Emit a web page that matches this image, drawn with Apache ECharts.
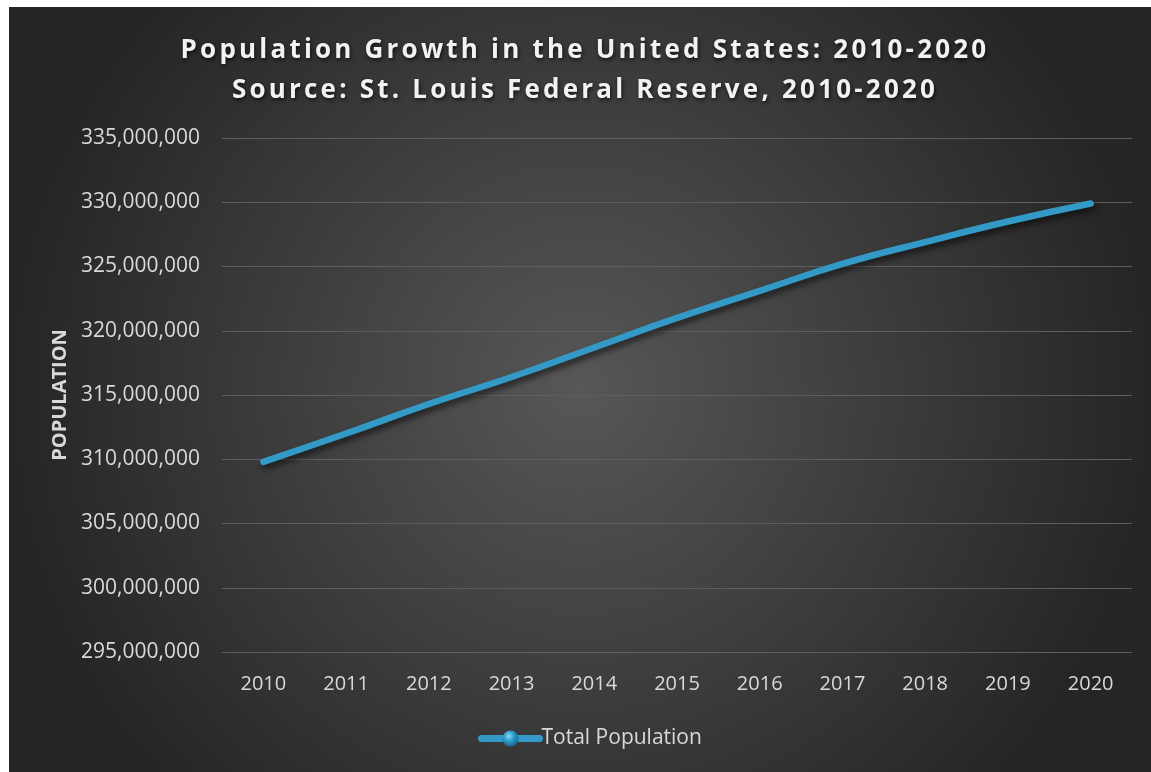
<!DOCTYPE html>
<html>
<head>
<meta charset="utf-8">
<script src="https://cdn.jsdelivr.net/npm/echarts@6/dist/echarts.min.js"></script>
<style>
  html, body { margin: 0; padding: 0; background: #ffffff; }
  #chart { width: 1151px; height: 772px; }
</style>
</head>
<body>
<div id="chart"></div>
<script>
// data
const years = ['2010', '2011', '2012', '2013', '2014', '2015', '2016', '2017', '2018', '2019', '2020'];
const totalPopulation = [309800000, 312000000, 314300000, 316400000, 318700000, 321000000,
  323100000, 325200000, 326900000, 328500000, 329900000];
const yMin = 295000000;
const yMax = 335000000;
const yStep = 5000000;
const titleLines = [
  'Population Growth in the United States: 2010-2020',
  'Source: St. Louis Federal Reserve, 2010-2020'
];

const labelColor = '#d9d9d9';
const lineColor = '#3399c6';

// the title is letter-spaced, so every character goes in its own rich token
function spaced(line) {
  return line.split('').map(function (c) { return '{s|' + c + '}'; }).join('');
}

const myChart = echarts.init(document.getElementById('chart'));

const option = {
  backgroundColor: '#ffffff',
  animation: false,
  graphic: [
    {
      type: 'rect',
      z: -100,
      silent: true,
      shape: { x: 9, y: 7, width: 1142, height: 765 },
      style: {
        fill: new echarts.graphic.RadialGradient(0.5, 0.5, 0.75, [
          { offset: 0, color: '#575757' },
          { offset: 1, color: '#252525' }
        ])
      }
    }
  ],
  title: {
    text: titleLines.map(spaced).join('\n'),
    left: 580,
    top: 26,
    textAlign: 'center',
    textStyle: {
      color: '#f2f2f2',
      fontFamily: 'Open Sans',
      fontWeight: 'bold',
      fontSize: 26,
      lineHeight: 40,
      rich: {
        s: {
          color: '#f2f2f2',
          fontFamily: 'Open Sans',
          fontWeight: 'bold',
          fontSize: 26,
          lineHeight: 40,
          padding: [0, 3.2, 0, 0],
          textShadowColor: 'rgba(0,0,0,0.7)',
          textShadowBlur: 4,
          textShadowOffsetX: 1,
          textShadowOffsetY: 2
        }
      }
    }
  },
  legend: {
    bottom: 18,
    left: 473,
    itemWidth: 58,
    itemHeight: 20,
    itemGap: 10,
    data: ['Total Population'],
    lineStyle: { width: 7, color: lineColor, cap: 'round' },
    itemStyle: {
      color: new echarts.graphic.RadialGradient(0.4, 0.35, 0.6, [
        { offset: 0, color: '#8fd3f0' },
        { offset: 0.5, color: '#2f9fd0' },
        { offset: 1, color: '#1b6f94' }
      ])
    },
    textStyle: {
      color: labelColor,
      fontFamily: 'Open Sans',
      fontSize: 21,
      padding: [0, 0, 0, -3]
    }
  },
  grid: {
    left: 222,
    right: 19,
    top: 138,
    bottom: 120
  },
  xAxis: {
    type: 'category',
    data: years,
    boundaryGap: true,
    axisLine: { show: false },
    axisTick: { show: false },
    axisLabel: {
      color: labelColor,
      fontFamily: 'Open Sans',
      fontSize: 20,
      margin: 22
    }
  },
  yAxis: {
    type: 'value',
    min: yMin,
    max: yMax,
    interval: yStep,
    name: 'POPULATION',
    nameLocation: 'middle',
    nameGap: 152,
    nameRotate: 90,
    nameTextStyle: {
      color: labelColor,
      fontFamily: 'Open Sans',
      fontWeight: 'bold',
      fontSize: 20
    },
    axisLine: { show: false },
    axisTick: { show: false },
    axisLabel: {
      color: labelColor,
      fontFamily: 'Open Sans',
      fontSize: 21,
      margin: 22,
      formatter: function (v) {
        return v.toLocaleString('en-US');
      }
    },
    splitLine: {
      lineStyle: { color: '#5e5e5e', width: 1 }
    }
  },
  series: [
    {
      name: 'Total Population',
      type: 'line',
      data: totalPopulation,
      smooth: true,
      symbol: 'circle',
      symbolSize: 16,
      showSymbol: false,
      itemStyle: { color: lineColor },
      lineStyle: {
        color: lineColor,
        width: 6.5,
        cap: 'round',
        shadowColor: 'rgba(0,0,0,0.6)',
        shadowBlur: 6,
        shadowOffsetX: 2,
        shadowOffsetY: 4
      }
    }
  ]
};

myChart.setOption(option);
</script>
</body>
</html>
